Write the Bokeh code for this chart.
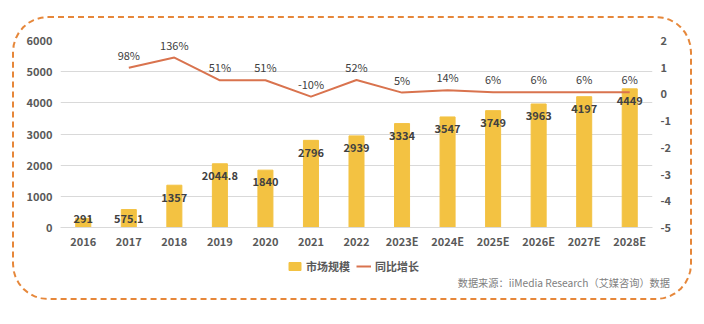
from bokeh.plotting import figure
from bokeh.layouts import column
from bokeh.models import (FactorRange, Range1d, LinearAxis, FixedTicker, Legend, LegendItem, Div)
from bokeh.core.properties import value
from bokeh.embed import file_html
from bokeh.resources import INLINE

years = ["2016", "2017", "2018", "2019", "2020", "2021", "2022",
         "2023E", "2024E", "2025E", "2026E", "2027E", "2028E"]
market = [291, 575.1, 1357, 2044.8, 1840, 2796, 2939, 3334, 3547, 3749, 3963, 4197, 4449]
market_labels = ["291", "575.1", "1357", "2044.8", "1840", "2796", "2939",
                 "3334", "3547", "3749", "3963", "4197", "4449"]
growth_years = years[1:]
growth = [0.98, 1.36, 0.51, 0.51, -0.10, 0.52, 0.05, 0.14, 0.06, 0.06, 0.06, 0.06]
growth_labels = ["98%", "136%", "51%", "51%", "-10%", "52%", "5%", "14%", "6%", "6%", "6%", "6%"]
left_ticks = [0, 1000, 2000, 3000, 4000, 5000, 6000]
right_ticks = [-5, -4, -3, -2, -1, 0, 1, 2]
series_names = ["市场规模", "同比增长"]
source_text = "数据来源：iiMedia Research（艾媒咨询）数据"

FONT = "Noto Sans CJK SC"
BAR = "#F3C242"
LINE = "#D9734E"
TXT = "#404040"

p = figure(x_range=FactorRange(*years), y_range=Range1d(0, 6000),
           width=676, height=233, output_backend="svg", toolbar_location=None,
           min_border_left=46, min_border_right=38, min_border_top=22, min_border_bottom=22)
p.extra_y_ranges = {"g": Range1d(-5, 2)}
p.outline_line_color = None
p.background_fill_color = None
p.border_fill_color = None

p.vbar(x=years, top=market, width=0.33, color=BAR)
p.line(x=growth_years, y=growth, y_range_name="g", line_color=LINE, line_width=2)

label_y = [max(v - 380, min(v, 290)) for v in market]
p.text(x=years, y=label_y, text=market_labels, text_align="center", text_baseline="middle",
       text_font=value(FONT), text_font_size="11px", text_font_style="bold", text_color=TXT)
p.text(x=growth_years, y=growth, text=growth_labels, y_range_name="g", y_offset=-13,
       text_align="center", text_baseline="middle",
       text_font=value(FONT), text_font_size="11px", text_color=TXT)

for ax in [p.yaxis[0], p.xaxis[0]]:
    ax.major_label_text_font = FONT
    ax.major_label_text_font_size = "11px"
    ax.major_label_text_font_style = "bold"
    ax.major_label_text_color = "#595959"
    ax.major_tick_line_color = None
    ax.minor_tick_line_color = None
    ax.major_tick_out = 0
    ax.major_tick_in = 0

p.yaxis[0].ticker = FixedTicker(ticks=left_ticks)
p.yaxis[0].axis_line_color = None
p.yaxis[0].major_label_standoff = 8
p.xaxis[0].axis_line_color = "#d9d9d9"
p.xaxis[0].major_label_standoff = 5

ra = LinearAxis(y_range_name="g", ticker=FixedTicker(ticks=right_ticks))
ra.axis_line_color = None
ra.major_tick_line_color = None
ra.minor_tick_line_color = None
ra.major_tick_out = 0
ra.major_tick_in = 0
ra.major_label_overrides = {t: str(t) for t in right_ticks}
ra.major_label_text_font = FONT
ra.major_label_text_font_size = "11px"
ra.major_label_text_font_style = "bold"
ra.major_label_text_color = "#595959"
ra.major_label_standoff = 8
p.add_layout(ra, "right")

p.xgrid.grid_line_color = None
p.ygrid.grid_line_color = "#d9d9d9"
p.ygrid.ticker = FixedTicker(ticks=left_ticks)

# footer strip holding the legend (same series, hidden renderers used only for legend swatches)
f = figure(width=676, height=26, output_backend="svg", toolbar_location=None,
           x_range=p.x_range, y_range=Range1d(-3, -2),
           x_axis_location=None, y_axis_location=None,
           min_border_left=46, min_border_right=38, min_border_top=0, min_border_bottom=0)
f.grid.visible = False
f.outline_line_color = None
f.background_fill_color = None
f.border_fill_color = None
lb = f.vbar(x=years, top=market, width=0.33, color=BAR, visible=False)
ll = f.line(x=growth_years, y=growth, line_color=LINE, line_width=2, visible=False)
legend = Legend(items=[LegendItem(label=series_names[0], renderers=[lb]),
                       LegendItem(label=series_names[1], renderers=[ll])],
                orientation="horizontal", location=(227, 3),
                label_text_font=FONT, label_text_font_size="11px",
                label_text_font_style="bold", label_text_color="#595959",
                glyph_width=15, glyph_height=10, label_standoff=4, spacing=6,
                padding=0, margin=0, border_line_color=None, background_fill_alpha=0,
                label_height=14, click_policy="none")
f.add_layout(legend, "center")

src = Div(text=source_text, width=676, height=21,
          styles={"font-family": FONT, "font-size": "10.2px", "line-height": "12px",
                  "color": "#808080", "text-align": "right", "padding-right": "20px",
                  "box-sizing": "border-box", "margin": "0"})

col = column(p, f, src, spacing=0)
col.styles = {"border": "2px dashed #E6873A", "border-radius": "36px",
              "margin-top": "16px", "margin-left": "12px"}

open("out.html", "w").write(file_html(col, INLINE))
